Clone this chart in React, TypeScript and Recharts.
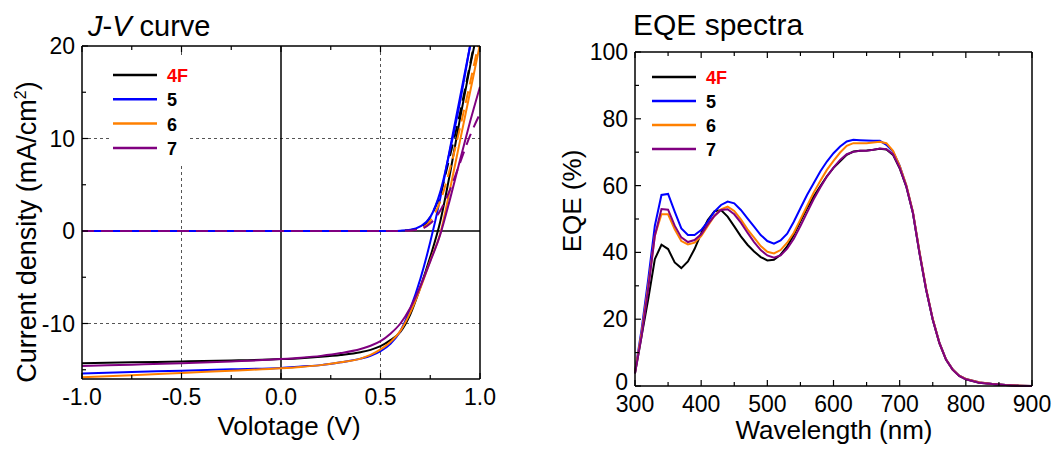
import { LineChart, Line, XAxis, YAxis, ReferenceLine } from "recharts";

// ---- J-V data (V, mA/cm2) ----
const voltage = [-1, -0.75, -0.5, -0.25, 0, 0.1, 0.2, 0.3, 0.4, 0.45, 0.5, 0.55, 0.6, 0.65, 0.7, 0.75, 0.8, 0.85, 0.9, 0.95, 1.0];
const light4F = [-14.3, -14.2, -14.1, -14.0, -13.85, -13.75, -13.6, -13.4, -13.1, -12.85, -12.45, -11.8, -10.9, -9.0, -6.1, -2.8, 1.0, 6.3, 12.2, 17.8, 23.0];
const light5 = [-15.4, -15.25, -15.1, -14.95, -14.8, -14.65, -14.5, -14.2, -13.8, -13.5, -13.0, -12.2, -10.8, -8.4, -5.2, -1.2, 3.5, 9.0, 14.5, 20.0, 25.5];
const light6 = [-15.8, -15.6, -15.35, -15.1, -14.85, -14.7, -14.5, -14.2, -13.8, -13.4, -12.8, -12.0, -10.8, -8.8, -6.2, -3.2, -0.3, 4.6, 9.8, 15.0, 20.2];
const light7 = [-14.6, -14.45, -14.3, -14.1, -13.85, -13.7, -13.5, -13.2, -12.75, -12.4, -11.9, -11.1, -10.0, -8.3, -6.0, -3.3, -0.4, 3.5, 7.7, 11.8, 15.6];
const dark4F = [0, 0, 0, 0, 0, 0, 0, 0, 0, 0, 0, 0, 0.02, 0.1, 0.3, 1.5, 4.0, 8.2, 12.8, 18.0, 23.5];
const dark5 = [0, 0, 0, 0, 0, 0, 0, 0, 0, 0, 0, 0.01, 0.04, 0.13, 0.5, 1.5, 4.2, 8.8, 14.0, 20.0, 26.0];
const dark6 = [0, 0, 0, 0, 0, 0, 0, 0, 0, 0, 0, 0, 0.02, 0.07, 0.25, 1.1, 3.2, 6.8, 11.2, 16.0, 21.0];
const dark7 = [0, 0, 0, 0, 0, 0, 0, 0, 0, 0, 0, 0, 0.01, 0.05, 0.2, 0.8, 2.2, 4.5, 7.4, 10.3, 12.7];

// ---- EQE data (nm, %) ----
const wavelength = [
  300, 310, 320, 330, 340, 350, 360, 370, 380, 390, 400, 410, 420, 430, 440, 450, 460, 470, 480, 490,
  500, 510, 520, 530, 540, 550, 560, 570, 580, 590, 600, 610, 620, 630, 640, 650, 660, 670, 680, 690,
  700, 710, 720, 730, 740, 750, 760, 770, 780, 790, 800, 820, 840, 860, 880, 900,
];
const eqe4F = [
  3.8, 15, 26, 38, 42.3, 41, 37, 35.3, 37.3, 41, 45.7, 49.7, 52.3, 52.7, 50.7, 47.8, 44.8, 42.3, 40.3, 38.6,
  37.6, 37.8, 39.3, 41.8, 45.3, 49.3, 53.2, 56.7, 59.8, 62.8, 65.3, 67.3, 69.2, 70.2, 70.4, 70.5, 70.7, 71, 70.8, 69.2,
  65.2, 59.7, 51.8, 39.7, 28.8, 19.8, 12.8, 7.9, 4.9, 3, 2, 1, 0.6, 0.3, 0.1, 0,
];
const eqe5 = [
  4.2, 17, 32, 48, 57.2, 57.5, 52.2, 47.2, 45.2, 45.2, 46.7, 49.2, 52.2, 54.2, 55.2, 54.7, 52.7, 50.2, 47.7, 45.2,
  43.4, 42.6, 43.6, 45.6, 49.2, 53.2, 57.2, 60.7, 64.2, 67.2, 69.7, 71.7, 73.2, 73.7, 73.6, 73.5, 73.4, 73.4, 72.2, 70.2,
  66, 60, 52, 40, 29, 20, 13, 8, 5, 3.1, 2.1, 1.1, 0.6, 0.3, 0.15, 0,
];
const eqe6 = [
  4.2, 16, 30, 45, 51.4, 51.4, 46.9, 43.4, 42.4, 42.9, 44.9, 47.9, 50.9, 52.9, 53.7, 52.4, 49.9, 46.9, 44.4, 41.9,
  40.2, 39.7, 40.7, 42.9, 45.9, 49.9, 53.9, 57.9, 61.4, 64.7, 67.4, 69.9, 71.9, 72.7, 72.7, 72.7, 72.9, 73.1, 72.7, 70.4,
  65.9, 60.2, 52.2, 40.2, 29.2, 20.1, 13, 8, 5, 3.1, 2.1, 1.1, 0.6, 0.3, 0.15, 0,
];
const eqe7 = [
  3.8, 15, 29, 45, 53, 52.8, 48, 44.5, 43.1, 43.7, 45.4, 48.4, 50.9, 52.7, 52.9, 51.4, 48.9, 45.9, 43.1, 40.7,
  39.1, 38.4, 39.1, 41.1, 44.1, 47.9, 51.9, 55.9, 59.4, 62.7, 65.4, 67.7, 69.4, 70.1, 70.4, 70.4, 70.7, 71.1, 70.9, 69.4,
  65.3, 59.8, 51.9, 39.8, 28.9, 19.9, 12.9, 7.9, 4.9, 3, 2, 1, 0.6, 0.3, 0.1, 0,
];

// ---- ticks ----
const jvXTicks = [-1, -0.75, -0.5, -0.25, 0, 0.25, 0.5, 0.75, 1];
const jvYTicks = [-15, -10, -5, 0, 5, 10, 15, 20];
const eqeXTicks = [300, 350, 400, 450, 500, 550, 600, 650, 700, 750, 800, 850, 900];
const eqeYTicks = [0, 10, 20, 30, 40, 50, 60, 70, 80, 90, 100];

const samples = [
  { key: "4F", color: "#000000", labelColor: "#ff0000" },
  { key: "5", color: "#0000ff", labelColor: "#000000" },
  { key: "6", color: "#ff8000", labelColor: "#000000" },
  { key: "7", color: "#800080", labelColor: "#000000" },
];

const jvData = voltage.map((v, i) => ({
  v,
  l4F: light4F[i], l5: light5[i], l6: light6[i], l7: light7[i],
  d4F: dark4F[i], d5: dark5[i], d6: dark6[i], d7: dark7[i],
}));

const eqeData = wavelength.map((w, i) => ({
  w, e4F: eqe4F[i], e5: eqe5[i], e6: eqe6[i], e7: eqe7[i],
}));

const FONT = "'Liberation Sans', Arial, sans-serif";
const TICK_FONT = 23;

// tick renderers: ticks point into the plot, labels only on major ticks
const bottomTick = (fmt: (v: number) => string | null) => (props: any) => {
  const { x, y, payload } = props;
  const label = fmt(payload.value);
  return (
    <g>
      <line x1={x} y1={y} x2={x} y2={y - (label ? 6 : 4)} stroke="#000" strokeWidth={1.2} />
      {label && (
        <text x={x} y={y + 26} textAnchor="middle" fontSize={TICK_FONT} fontFamily={FONT} fill="#000">
          {label}
        </text>
      )}
    </g>
  );
};

// liftAt: a value whose label sits a little higher (keeps the corner "0" clear of the x labels)
const leftTick = (fmt: (v: number) => string | null, liftAt?: number) => (props: any) => {
  const { x, y, payload } = props;
  const label = fmt(payload.value);
  const dy = payload.value === liftAt ? 4 : 8;
  return (
    <g>
      <line x1={x} y1={y} x2={x + (label ? 6 : 4)} y2={y} stroke="#000" strokeWidth={1.2} />
      {label && (
        <text x={x - 7} y={y + dy} textAnchor="end" fontSize={TICK_FONT} fontFamily={FONT} fill="#000">
          {label}
        </text>
      )}
    </g>
  );
};

const topTick = (major: (v: number) => boolean) => (props: any) => {
  const { x, y, payload } = props;
  return <line x1={x} y1={y} x2={x} y2={y + (major(payload.value) ? 6 : 4)} stroke="#000" strokeWidth={1.2} />;
};

const rightTick = (major: (v: number) => boolean) => (props: any) => {
  const { x, y, payload } = props;
  return <line x1={x} y1={y} x2={x - (major(payload.value) ? 6 : 4)} y2={y} stroke="#000" strokeWidth={1.2} />;
};

const jvXFmt = (v: number) => (Math.abs(v * 2 - Math.round(v * 2)) < 1e-6 ? v.toFixed(1) : null);
const jvYFmt = (v: number) => (v % 10 === 0 ? String(v) : null);
const eqeXFmt = (v: number) => (v % 100 === 0 ? String(v) : null);
const eqeYFmt = (v: number) => (v % 20 === 0 ? String(v) : null);

const axisLine = { stroke: "#000", strokeWidth: 1.5 };

function Legend({ x, y, step }: { x: number; y: number; step: number }) {
  return (
    <g>
      {samples.map((s, i) => (
        <g key={s.key}>
          <line x1={x} x2={x + 44} y1={y + i * step} y2={y + i * step} stroke={s.color} strokeWidth={2.5} />
          <text x={x + 54} y={y + i * step + 7} fontSize={18} fontWeight="bold" fontFamily={FONT} fill={s.labelColor}>
            {s.key}
          </text>
        </g>
      ))}
    </g>
  );
}

// axes are 1px thick so the plot area equals margin + 1
function JVChart() {
  return (
    <LineChart width={530} height={450} data={jvData} margin={{ top: 45, right: 49, bottom: 70, left: 81 }}>
      <XAxis dataKey="v" type="number" domain={[-1, 1]} ticks={jvXTicks} interval={0} height={1}
        tickSize={0} tickMargin={0} tickLine={false} axisLine={axisLine} tick={bottomTick(jvXFmt)} allowDataOverflow />
      <XAxis xAxisId="top" orientation="top" dataKey="v" type="number" domain={[-1, 1]} ticks={jvXTicks} interval={0}
        height={1} tickSize={0} tickMargin={0} tickLine={false} axisLine={axisLine} tick={topTick((v) => jvXFmt(v) !== null)} />
      <YAxis type="number" domain={[-16, 20]} ticks={jvYTicks} interval={0} width={1}
        tickSize={0} tickMargin={0} tickLine={false} axisLine={axisLine} tick={leftTick(jvYFmt)} allowDataOverflow />
      <YAxis yAxisId="right" orientation="right" type="number" domain={[-16, 20]} ticks={jvYTicks} interval={0} width={1}
        tickSize={0} tickMargin={0} tickLine={false} axisLine={axisLine} tick={rightTick((v) => v % 10 === 0)} />

      <ReferenceLine x={-0.5} stroke="#555" strokeDasharray="3 3" strokeWidth={1} />
      <ReferenceLine x={0.5} stroke="#555" strokeDasharray="3 3" strokeWidth={1} />
      <ReferenceLine y={10} stroke="#555" strokeDasharray="3 3" strokeWidth={1} />
      <ReferenceLine y={-10} stroke="#555" strokeDasharray="3 3" strokeWidth={1} />
      <ReferenceLine x={0} stroke="#000" strokeWidth={1.5} />
      <ReferenceLine y={0} stroke="#000" strokeWidth={1.5} />

      <Line dataKey="l4F" type="monotone" stroke="#000000" strokeWidth={2} dot={false} isAnimationActive={false} />
      <Line dataKey="l5" type="monotone" stroke="#0000ff" strokeWidth={2} dot={false} isAnimationActive={false} />
      <Line dataKey="l6" type="monotone" stroke="#ff8000" strokeWidth={2} dot={false} isAnimationActive={false} />
      <Line dataKey="l7" type="monotone" stroke="#800080" strokeWidth={2} dot={false} isAnimationActive={false} />
      <Line dataKey="d4F" type="monotone" stroke="#000000" strokeWidth={2} strokeDasharray="12 7" dot={false} isAnimationActive={false} />
      <Line dataKey="d6" type="monotone" stroke="#ff8000" strokeWidth={2} strokeDasharray="12 7" dot={false} isAnimationActive={false} />
      <Line dataKey="d5" type="monotone" stroke="#0000ff" strokeWidth={2} dot={false} isAnimationActive={false} />
      <Line dataKey="d7" type="monotone" stroke="#800080" strokeWidth={2} strokeDasharray="12 7" dot={false} isAnimationActive={false} />
    </LineChart>
  );
}

function EQEChart() {
  return (
    <LineChart width={516} height={450} data={eqeData} margin={{ top: 51, right: 23, bottom: 63, left: 94 }}>
      <XAxis dataKey="w" type="number" domain={[300, 900]} ticks={eqeXTicks} interval={0} height={1}
        tickSize={0} tickMargin={0} tickLine={false} axisLine={axisLine} tick={bottomTick(eqeXFmt)} />
      <XAxis xAxisId="top" orientation="top" dataKey="w" type="number" domain={[300, 900]} ticks={eqeXTicks} interval={0}
        height={1} tickSize={0} tickMargin={0} tickLine={false} axisLine={axisLine} tick={topTick((v) => v % 100 === 0)} />
      <YAxis type="number" domain={[0, 100]} ticks={eqeYTicks} interval={0} width={1}
        tickSize={0} tickMargin={0} tickLine={false} axisLine={axisLine} tick={leftTick(eqeYFmt, 0)} />
      <YAxis yAxisId="right" orientation="right" type="number" domain={[0, 100]} ticks={eqeYTicks} interval={0} width={1}
        tickSize={0} tickMargin={0} tickLine={false} axisLine={axisLine} tick={rightTick((v) => v % 20 === 0)} />

      <Line dataKey="e4F" type="linear" stroke="#000000" strokeWidth={2} dot={false} isAnimationActive={false} />
      <Line dataKey="e5" type="linear" stroke="#0000ff" strokeWidth={2} dot={false} isAnimationActive={false} />
      <Line dataKey="e6" type="linear" stroke="#ff8000" strokeWidth={2} dot={false} isAnimationActive={false} />
      <Line dataKey="e7" type="linear" stroke="#800080" strokeWidth={2} dot={false} isAnimationActive={false} />
    </LineChart>
  );
}

export default function App() {
  return (
    <div style={{ position: "absolute", left: 0, top: 0, width: 1056, height: 450, background: "#fff", fontFamily: FONT }}>
      <div style={{ position: "absolute", left: 0, top: 0 }}>
        <JVChart />
      </div>
      <div style={{ position: "absolute", left: 540, top: 0 }}>
        <EQEChart />
      </div>
      {/* titles, axis labels and legends */}
      <svg width={1056} height={450} style={{ position: "absolute", left: 0, top: 0, pointerEvents: "none" }}>
        <text x={88} y={36} fontSize={29} fontFamily={FONT} fill="#000">
          <tspan fontStyle="italic">J</tspan>-<tspan fontStyle="italic">V</tspan> curve
        </text>
        <text x={633} y={35} fontSize={30} fontFamily={FONT} fill="#000">EQE spectra</text>

        <text x={289} y={435} textAnchor="middle" fontSize={26} fontFamily={FONT} fill="#000">Volotage (V)</text>
        <text x={834} y={439} textAnchor="middle" fontSize={26} fontFamily={FONT} fill="#000">Wavelength (nm)</text>

        <text transform="translate(36,232) rotate(-90)" textAnchor="middle" fontSize={27} fontFamily={FONT} fill="#000">
          Current density (mA/cm<tspan dy={-10} fontSize={16}>2</tspan><tspan dy={10}>)</tspan>
        </text>
        <text transform="translate(581,201) rotate(-90)" textAnchor="middle" fontSize={26} fontFamily={FONT} fill="#000">
          EQE (%)
        </text>

        <rect x={109} y={56} width={80} height={107} fill="#fff" />
        <Legend x={113} y={75} step={24.3} />
        <Legend x={652} y={77} step={24} />
      </svg>
    </div>
  );
}
